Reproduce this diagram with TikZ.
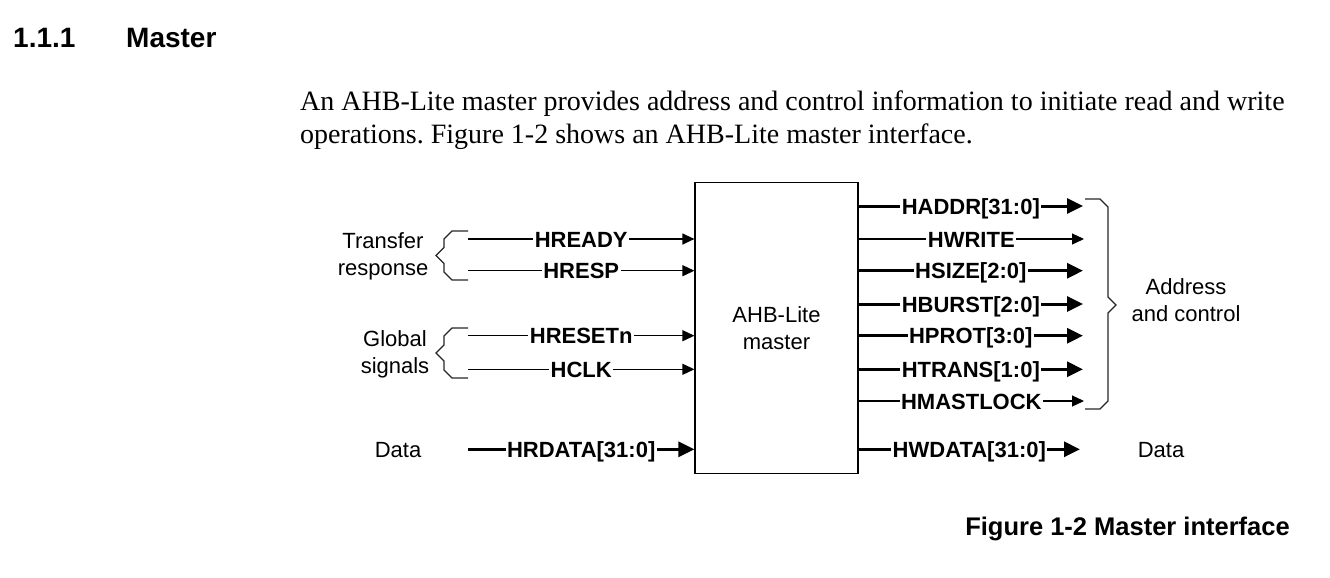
\documentclass[tikz,border=0pt]{standalone}
\usepackage{fontspec}
\setmainfont{Liberation Sans}
\newfontfamily\bodyserif{Liberation Serif}
\usepackage{tikz}
\usetikzlibrary{calc,arrows.meta}
\frenchspacing

\begin{document}
\begin{tikzpicture}[x=1pt,y=-1pt,
    sig/.style={line width=1.2pt,-{Triangle[length=12pt,width=11pt]}},
    bus/.style={line width=3pt,-{Triangle[length=16pt,width=15pt]}},
    lbl/.style={fill=white,inner sep=1.5pt,font=\bfseries\fontsize{22}{26}\selectfont,text height=16pt,text depth=0pt},
    txt/.style={inner sep=0pt,font=\fontsize{22}{27}\selectfont,align=center},
    brc/.style={line width=1.2pt,black!85}]
    \useasboundingbox (0,0) rectangle (1330,578);
    % Heading
    \node[anchor=base west,inner sep=0pt,font=\bfseries\fontsize{28}{33}\selectfont] (secnum) at (13,48) {1.1.1};
    \node[anchor=base west,inner sep=0pt,font=\bfseries\fontsize{28}{33}\selectfont] (sectitle) at (126,48) {Master};
    % Text
    \node[anchor=base west,inner sep=0pt,font=\bodyserif\fontsize{28}{33}\selectfont] (para1) at (300,110) {An AHB-Lite master provides address and control information to initiate read and write};
    \node[anchor=base west,inner sep=0pt,font=\bodyserif\fontsize{28}{33}\selectfont] (para2) at (300,143) {operations. Figure 1-2 shows an AHB-Lite master interface.};
    % Block
    \node[draw,line width=1.2pt,minimum width=163pt,minimum height=291pt,txt] (M) at (776.5,328.3) {AHB-Lite\\master};
    % Def coords
    \coordinate (HR) at (468,239);
    \coordinate (HP) at (468,270.7);
    \coordinate (HN) at (468,335.7);
    \coordinate (HC) at (468,369.3);
    \coordinate (HD) at (468,449.3);
    \coordinate (QA) at (1083,206);
    \coordinate (QW) at (1084,239);
    \coordinate (QS) at (1083,270.7);
    \coordinate (QB) at (1083,304);
    \coordinate (QP) at (1083,335.7);
    \coordinate (QT) at (1083,369.3);
    \coordinate (QL) at (1084,401);
    \coordinate (QD) at (1080,449.3);
    % Draw inputs
    \draw[sig] (HR) -- (HR -| M.west) node[lbl,midway] {HREADY};
    \draw[sig] (HP) -- (HP -| M.west) node[lbl,midway] {HRESP};
    \draw[sig] (HN) -- (HN -| M.west) node[lbl,midway] {HRESETn};
    \draw[sig] (HC) -- (HC -| M.west) node[lbl,midway] {HCLK};
    \draw[bus] (HD) -- (HD -| M.west) node[lbl,midway] {HRDATA[31:0]};
    % Draw outputs
    \draw[bus] (M.east |- QA) -- (QA) node[lbl,midway] {HADDR[31:0]};
    \draw[sig] (M.east |- QW) -- (QW) node[lbl,midway] {HWRITE};
    \draw[bus] (M.east |- QS) -- (QS) node[lbl,midway] {HSIZE[2:0]};
    \draw[bus] (M.east |- QB) -- (QB) node[lbl,midway] {HBURST[2:0]};
    \draw[bus] (M.east |- QP) -- (QP) node[lbl,midway] {HPROT[3:0]};
    \draw[bus] (M.east |- QT) -- (QT) node[lbl,midway] {HTRANS[1:0]};
    \draw[sig] (M.east |- QL) -- (QL) node[lbl,midway] {HMASTLOCK};
    \draw[bus] (M.east |- QD) -- (QD) node[lbl,midway] {HWDATA[31:0]};
    % Draw braces
    \draw[brc] (468,231) -- (452,231) -- (444,239) -- (444,247.5) -- (436,255.5) -- (444,263.5) -- (444,272) -- (452,280) -- (468,280);
    \draw[brc] (468,328) -- (452,328) -- (444,336) -- (444,345) -- (436,353) -- (444,361) -- (444,370) -- (452,378) -- (468,378);
    \draw[brc] (1085,199) -- (1100,199) -- (1108,207) -- (1108,297) -- (1116,305) -- (1108,313) -- (1108,401) -- (1100,409) -- (1085,409);
    % Label
    \node[txt] (xfer) at (383,256) {Transfer\\response};
    \node[txt] (glob) at (395,354.5) {Global\\signals};
    \node[txt,anchor=base] (din) at (398,457) {Data};
    \node[txt] (addr) at (1186,300.5) {Address\\and control};
    \node[txt,anchor=base] (dout) at (1161,457) {Data};
    % Caption
    \node[anchor=base east,inner sep=0pt,font=\bfseries\fontsize{25.5}{30}\selectfont] (cap) at (1290,535) {Figure 1-2 Master interface};
\end{tikzpicture}
\end{document}
